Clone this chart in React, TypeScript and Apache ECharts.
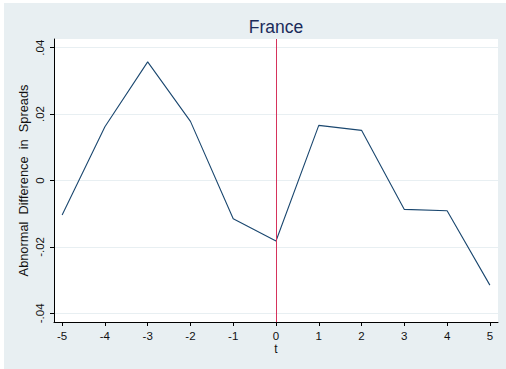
import React, { useEffect, useRef } from "react";
import * as echarts from "echarts";

// Event-time grid and abnormal spread differences
const eventTime = [-5, -4, -3, -2, -1, 0, 1, 2, 3, 4, 5];
const abnormalDiff = [-0.0104, 0.0162, 0.0357, 0.0178, -0.0115, -0.0182, 0.0166, 0.0151, -0.0087, -0.0091, -0.0315];
const xTicks = [-5, -4, -3, -2, -1, 0, 1, 2, 3, 4, 5];
const yTicks = [-0.04, -0.02, 0, 0.02, 0.04];
const eventLine = 0;

const fmtY = (v: number) => {
  if (Math.abs(v) < 1e-12) return "0";
  return (v < 0 ? "-" : "") + Math.abs(v).toFixed(2).replace(/^0/, "");
};

export default function App() {
  const ref = useRef<HTMLDivElement>(null);

  useEffect(() => {
    if (!ref.current) return;
    const chart = echarts.init(ref.current, undefined, { renderer: "svg" });
    const font = "'Liberation Sans', Arial, sans-serif";
    chart.setOption({
      animation: false,
      backgroundColor: "#ffffff",
      graphic: [
        {
          type: "rect",
          z: -10,
          silent: true,
          shape: { x: 4, y: 3, width: 502, height: 366 },
          style: { fill: "#e8eff2" },
        },
        {
          type: "text",
          x: 276,
          y: 27,
          style: {
            text: "France",
            fontSize: 17.5,
            fontFamily: font,
            fill: "#1a2b5a",
            textAlign: "center",
            textVerticalAlign: "middle",
          },
        },
      ],
      grid: {
        left: 54,
        top: 39,
        width: 444,
        height: 283,
        show: true,
        backgroundColor: "#ffffff",
        borderWidth: 0,
      },
      xAxis: {
        type: "value",
        min: -5.19,
        max: 5.19,
        name: "t",
        nameLocation: "middle",
        nameGap: 21,
        nameMoveOverlap: false,
        nameTextStyle: { fontSize: 12, fontFamily: font, color: "#111" },
        axisLine: { show: true, onZero: false, lineStyle: { color: "#000", width: 1 } },
        axisTick: { show: true, length: 4, customValues: xTicks, lineStyle: { color: "#000" } },
        axisLabel: {
          customValues: xTicks,
          margin: 8,
          fontSize: 11.5,
          fontFamily: font,
          color: "#111",
          formatter: (v: number) => String(v),
        },
        splitLine: { show: false },
      },
      yAxis: {
        type: "value",
        min: -0.0426,
        max: 0.0426,
        name: "Abnormal  Difference  in  Spreads",
        nameLocation: "middle",
        nameGap: 24,
        nameMoveOverlap: false,
        nameRotate: 90,
        nameTextStyle: { fontSize: 12.8, fontFamily: font, color: "#111" },
        axisLine: { show: true, onZero: false, lineStyle: { color: "#000", width: 1 } },
        axisTick: { show: true, length: 4, customValues: yTicks, lineStyle: { color: "#000" } },
        axisLabel: {
          customValues: yTicks,
          rotate: 90,
          margin: 8,
          fontSize: 11.5,
          fontFamily: font,
          color: "#111",
          formatter: fmtY,
        },
        splitLine: { show: true, lineStyle: { color: "#e8eff2", width: 1 } },
      },
      series: [
        {
          type: "line",
          data: eventTime.map((t, i) => [t, abnormalDiff[i]]),
          showSymbol: false,
          symbol: "none",
          lineStyle: { color: "#1a476f", width: 1.1 },
          z: 3,
          markLine: {
            silent: true,
            symbol: "none",
            label: { show: false },
            lineStyle: { color: "#d6335c", width: 1, type: "solid" },
            data: [{ xAxis: eventLine }],
          },
        },
      ],
    });
    return () => chart.dispose();
  }, []);

  return (
    <div
      ref={ref}
      style={{ position: "absolute", left: 0, top: 0, width: 506, height: 369 }}
    />
  );
}
